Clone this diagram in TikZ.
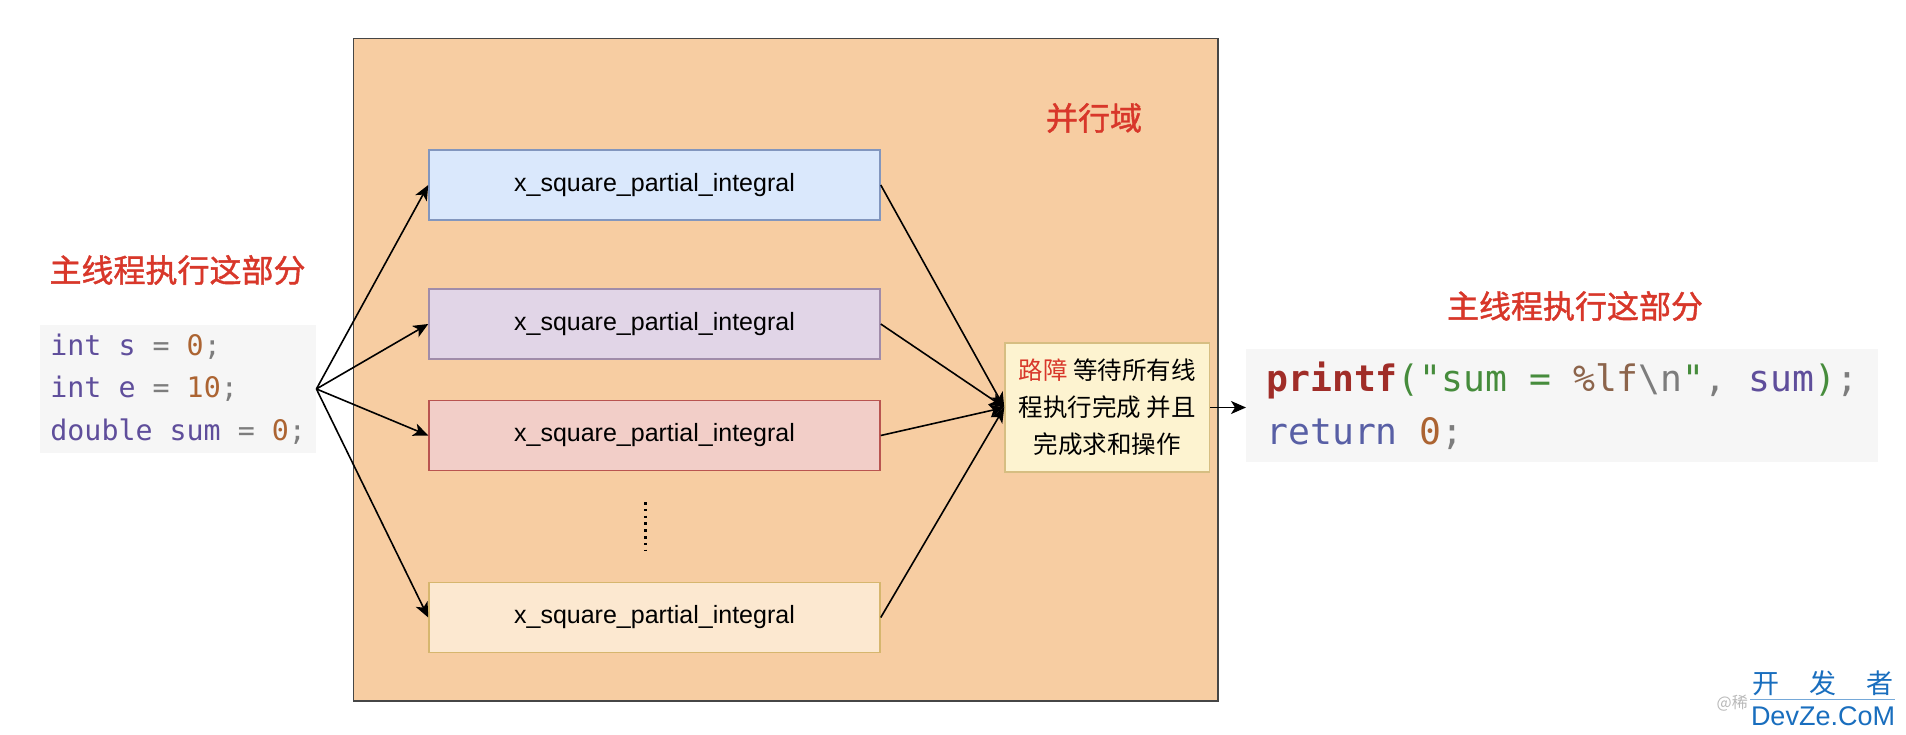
\documentclass[tikz,border=0pt]{standalone}
\usepackage{fontspec}
\setmainfont{Liberation Sans}
\newfontfamily\cjk{Noto Sans CJK SC}
\newfontfamily\cjkb[FakeBold=1.3]{Noto Sans CJK SC}
\newfontfamily\codefont{DejaVu Sans Mono}
\usetikzlibrary{arrows.meta}
\definecolor{peach}{RGB}{247,205,162}
\definecolor{outerline}{RGB}{70,70,70}
\definecolor{b1fill}{RGB}{218,232,252}\definecolor{b1line}{RGB}{130,150,190}
\definecolor{b2fill}{RGB}{225,213,231}\definecolor{b2line}{RGB}{160,140,170}
\definecolor{b3fill}{RGB}{242,206,200}\definecolor{b3line}{RGB}{185,84,80}
\definecolor{b4fill}{RGB}{252,232,208}\definecolor{b4line}{RGB}{214,182,110}
\definecolor{barfill}{RGB}{253,243,208}\definecolor{barline}{RGB}{214,190,130}
\definecolor{titlered}{RGB}{216,55,42}
\definecolor{codebg}{RGB}{246,246,246}
\definecolor{cpurple}{RGB}{95,78,155}
\definecolor{cnum}{RGB}{172,100,50}
\definecolor{cgray}{RGB}{125,125,125}
\definecolor{cred}{RGB}{160,45,40}
\definecolor{cgreen}{RGB}{70,140,60}
\definecolor{cbrown}{RGB}{140,100,75}
\definecolor{cblue}{RGB}{88,95,165}
\definecolor{wmblue}{RGB}{25,110,190}
\definecolor{wmgray}{RGB}{185,185,185}
\tikzset{
  pbox/.style={draw, line width=1.5pt, minimum width=451pt, minimum height=70pt, inner sep=0pt,
    font=\fontsize{25}{30}\selectfont},
  arr/.style={line width=1.6pt, -{Stealth[length=15pt,width=13pt,inset=4pt]}},
  rtitle/.style={text=titlered, font=\cjkb\fontsize{32}{36}\selectfont},
  codebox/.style={fill=codebg, inner sep=0pt, align=left}
}
\begin{document}
\begin{tikzpicture}[x=1pt,y=-1pt]
\useasboundingbox (0,0) rectangle (1906,734);
\fill[white] (0,0) rectangle (1906,734);

% parallel domain
\node[draw=outerline, fill=peach, line width=1.5pt, minimum width=864.5pt, minimum height=662.3pt,
  anchor=north west, inner sep=0pt] (domain) at (352.5,37.7) {};
\node[rtitle] (ptitle) at (1094,118) {并行域};

% worker boxes
\node[pbox, fill=b1fill, draw=b1line] (b1) at (654.5,185) {x\_square\_partial\_integral};
\node[pbox, fill=b2fill, draw=b2line] (b2) at (654.5,324) {x\_square\_partial\_integral};
\node[pbox, fill=b3fill, draw=b3line] (b3) at (654.5,435.5) {x\_square\_partial\_integral};
\node[pbox, fill=b4fill, draw=b4line] (b4) at (654.5,617.5) {x\_square\_partial\_integral};
\coordinate (d1) at (645.5,502);
\coordinate (d2) at (645.5,551);
\draw[line width=2.6pt, dash pattern=on 2.6pt off 4.2pt] (d1) -- (d2);

% barrier
\node[draw=barline, fill=barfill, line width=1.5pt, minimum width=204.5pt, minimum height=129pt,
  inner sep=0pt, align=center, font=\cjk\fontsize{24.5}{37}\selectfont] (bar) at (1107.25,407.5)
  {\textcolor{titlered}{路障} 等待所有线\\程执行完成 并且\\完成求和操作};

% left code
\node[rtitle] (ltitle) at (177.5,270) {主线程执行这部分};
\node[codebox, minimum width=276pt, minimum height=128.5pt, anchor=north west,
  font=\codefont\fontsize{28.3}{42.5}\selectfont] (lcode) at (40,324.5)
  {\textcolor{cpurple}{int s} \textcolor{cgray}{=} \textcolor{cnum}{0}\textcolor{cgray}{;}\\
   \textcolor{cpurple}{int e} \textcolor{cgray}{=} \textcolor{cnum}{10}\textcolor{cgray}{;}\\
   \textcolor{cpurple}{double sum} \textcolor{cgray}{=} \textcolor{cnum}{0}\textcolor{cgray}{;}};
\coordinate (fan) at (lcode.east);

% right code
\node[rtitle] (rtitle2) at (1575,306) {主线程执行这部分};
\node[codebox, minimum width=632pt, minimum height=113pt, anchor=north west,
  font=\codefont\fontsize{36.4}{53.5}\selectfont] (rcode) at (1246,349)
  {\textcolor{cred}{\bfseries printf}\textcolor{cgreen}{("sum = }\textcolor{cbrown}{\%lf}\textcolor{cgray}{\textbackslash n}\textcolor{cgreen}{"}\textcolor{cgray}{,} \textcolor{cpurple}{sum}\textcolor{cgreen}{)}\textcolor{cgray}{;}\\
   \textcolor{cblue}{return} \textcolor{cnum}{0}\textcolor{cgray}{;}};

% connectors
\draw[arr] (fan) -- (b1.west);
\draw[arr] (fan) -- (b2.west);
\draw[arr] (fan) -- (b3.west);
\draw[arr] (fan) -- (b4.west);
\draw[arr] (b1.east) -- (bar.west);
\draw[arr] (b2.east) -- (bar.west);
\draw[arr] (b3.east) -- (bar.west);
\draw[arr] (b4.east) -- (bar.west);
\draw[arr] (bar.east) -- (bar.east -| rcode.west);

% watermark
\node[text=wmgray, font=\cjk\fontsize{16}{18}\selectfont, anchor=east, inner sep=0pt] (wm0) at (1748,703) {@稀};
\node[text=wmblue, font=\cjk\fontsize{27}{30}\selectfont] (wm1) at (1823,683) {开\hspace{30pt}发\hspace{30pt}者};
\node[text=wmblue, inner sep=1pt, font=\fontsize{27}{30}\selectfont] (wm2) at (1823,716) {DevZe.CoM};
\draw[wmblue!60, line width=0.8pt] (1750,699) -- (1895,699);
\end{tikzpicture}
\end{document}
